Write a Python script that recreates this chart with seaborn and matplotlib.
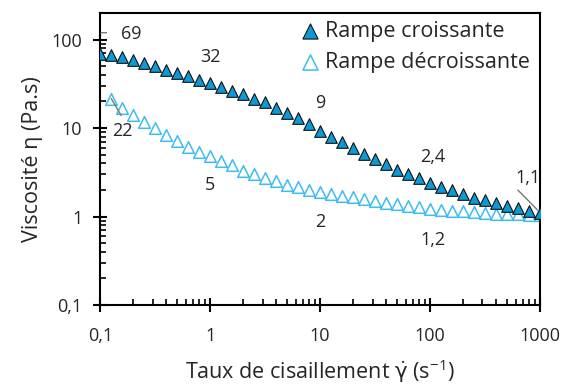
import numpy as np
import pandas as pd
import matplotlib
matplotlib.use('Agg')
import matplotlib.pyplot as plt
from matplotlib.ticker import FuncFormatter, LogLocator
import seaborn as sns

# shear rates: 10 points per decade
shear_up = [0.1, 0.126, 0.158, 0.2, 0.251, 0.316, 0.398, 0.501, 0.631, 0.794,
            1, 1.26, 1.58, 2, 2.51, 3.16, 3.98, 5.01, 6.31, 7.94,
            10, 12.6, 15.8, 20, 25.1, 31.6, 39.8, 50.1, 63.1, 79.4,
            100, 126, 158, 200, 251, 316, 398, 501, 631, 794, 1000]
visc_up = [69, 67, 63, 59, 54, 50, 46, 42, 38.5, 35,
           32, 28.8, 26.6, 24, 21.6, 19.5, 17, 15, 13.1, 11.2,
           9.3, 7.9, 6.9, 6.0, 5.1, 4.5, 3.9, 3.4, 3.0, 2.7,
           2.4, 2.15, 1.97, 1.79, 1.64, 1.53, 1.43, 1.31, 1.24, 1.16, 1.1]

shear_down = shear_up[1:]
visc_down = [21.5, 17, 14, 11.7, 10.1, 8.3, 7.1, 6.1, 5.3,
             4.8, 4.2, 3.8, 3.3, 3.05, 2.76, 2.53, 2.3, 2.13, 2.02,
             1.9, 1.80, 1.72, 1.65, 1.58, 1.50, 1.43, 1.38, 1.33, 1.28,
             1.22, 1.18, 1.16, 1.14, 1.12, 1.10, 1.08, 1.07, 1.06, 1.05, 1.04]

# data labels: (text, x, y of label)
labels_up = [('69', 0.19, 117), ('32', 1.0, 63), ('9', 10, 19), ('2,4', 105, 4.7), ('1,1', 780, 2.7)]
labels_down = [('22', 0.16, 9.2), ('5', 1.0, 2.26), ('2', 10, 0.86), ('1,2', 106, 0.54)]

df_up = pd.DataFrame({'x': shear_up, 'y': visc_up})
df_down = pd.DataFrame({'x': shear_down, 'y': visc_down})

sns.set_style('ticks')
plt.rcParams['font.family'] = ['Open Sans', 'DejaVu Sans']
plt.rcParams['mathtext.fontset'] = 'custom'
plt.rcParams['mathtext.rm'] = 'Open Sans'
plt.rcParams['mathtext.it'] = 'DejaVu Sans'

fig = plt.figure(figsize=(5.63, 3.85), dpi=100)
ax = fig.add_axes([0.178, 0.208, 0.781, 0.758])

sns.scatterplot(data=df_up, x='x', y='y', marker='^', s=70, color='#0c9ad6',
                edgecolor='#111111', linewidth=0.8, label='Rampe croissante', ax=ax, zorder=3)
sns.scatterplot(data=df_down, x='x', y='y', marker='^', s=70, color='white',
                edgecolor='#3cbcf0', linewidth=1.1, label='Rampe décroissante', ax=ax, zorder=2)

ax.set_xscale('log')
ax.set_yscale('log')
ax.set_xlim(0.1, 1000)
ax.set_ylim(0.1, 200)

fmt = FuncFormatter(lambda v, p: f'{v:g}'.replace('.', ','))
ax.xaxis.set_major_formatter(fmt)
ax.yaxis.set_major_formatter(fmt)
ax.xaxis.set_major_locator(LogLocator(base=10, numticks=10))
ax.yaxis.set_major_locator(LogLocator(base=10, numticks=10))
ax.xaxis.set_minor_locator(LogLocator(base=10, subs=np.arange(2, 10), numticks=20))
ax.yaxis.set_minor_locator(LogLocator(base=10, subs=np.arange(2, 10), numticks=20))
ax.xaxis.set_minor_formatter(FuncFormatter(lambda v, p: ''))
ax.yaxis.set_minor_formatter(FuncFormatter(lambda v, p: ''))

ax.tick_params(which='major', direction='inout', length=10, width=1.5, labelsize=13,
               colors='black', labelcolor='#262626')
ax.tick_params(which='minor', direction='in', length=4.5, width=1.2, colors='black')
ax.tick_params(axis='x', which='major', pad=11)
ax.tick_params(axis='y', which='major', pad=8)
for sp in ax.spines.values():
    sp.set_linewidth(1.5)
    sp.set_color('black')

ax.set_xlabel(r'Taux de cisaillement $\dot{\gamma}$ (s$^{\mathrm{-1}}$)', fontsize=15.5, color='#262626', labelpad=9)
ax.set_ylabel('Viscosité η (Pa.s)', fontsize=15.5, color='#262626', labelpad=6)

for txt, x, y in labels_up + labels_down:
    ax.text(x, y, txt, fontsize=13, color='#262626', ha='center', va='center')

# leader lines
ax.annotate('', xy=(0.102, 120), xytext=(0.114, 120),
            arrowprops=dict(arrowstyle='-', color='#777777', lw=1.0, shrinkA=0, shrinkB=0))
ax.annotate('', xy=(0.126, 21.6), xytext=(0.155, 13.9),
            arrowprops=dict(arrowstyle='-', color='#777777', lw=1.0, shrinkA=0, shrinkB=0))
ax.annotate('', xy=(955, 1.18), xytext=(630, 1.99),
            arrowprops=dict(arrowstyle='-', color='#777777', lw=1.0, shrinkA=0, shrinkB=0))

leg = ax.legend(loc='upper right', bbox_to_anchor=(530 / 563, 1 - 21 / 385), bbox_transform=fig.transFigure,
                frameon=False, fontsize=15.5, handletextpad=0.3, labelspacing=0.45, borderpad=0,
                borderaxespad=0, markerscale=1.3, handlelength=0.8)
for t in leg.get_texts():
    t.set_color('#262626')

fig.savefig('out.png', dpi=100)
